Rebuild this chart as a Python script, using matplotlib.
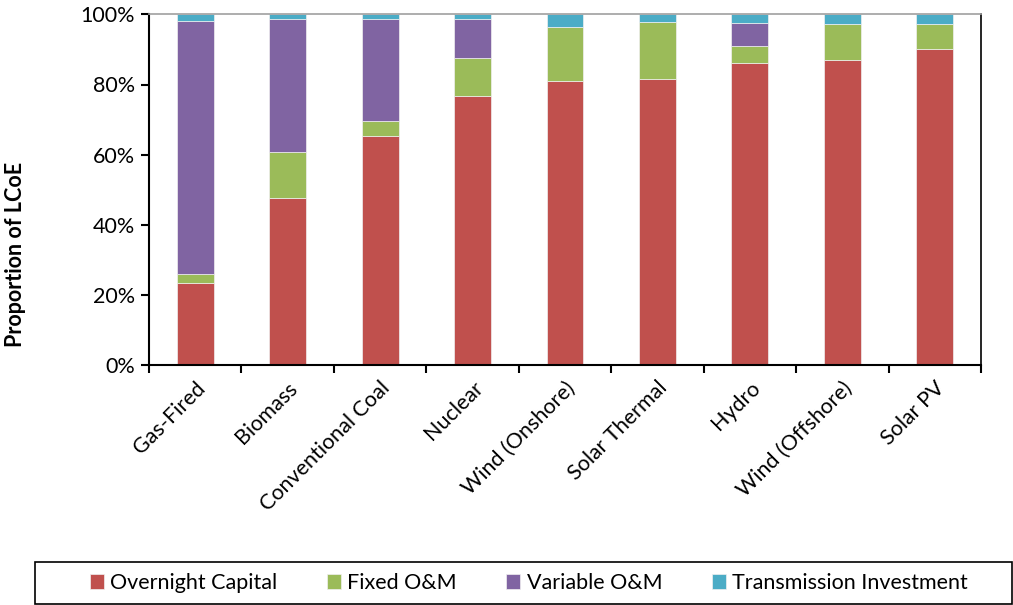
import matplotlib.pyplot as plt
from matplotlib.patches import Rectangle
import numpy as np

plt.rcParams['font.family'] = ['Lato', 'DejaVu Sans']

# technologies and their cost shares (%)
technologies = ['Gas-Fired', 'Biomass', 'Conventional Coal', 'Nuclear', 'Wind (Onshore)',
                'Solar Thermal', 'Hydro', 'Wind (Offshore)', 'Solar PV']
overnight_capital = [23.4, 47.8, 65.4, 76.8, 81.1, 81.7, 86.2, 87.1, 90.2]
fixed_om = [2.6, 13.0, 4.2, 10.8, 15.2, 16.0, 4.7, 10.2, 6.9]
variable_om = [72.1, 38.0, 29.0, 11.2, 0.0, 0.0, 6.7, 0.0, 0.0]
transmission = [1.9, 1.2, 1.4, 1.2, 3.7, 2.3, 2.4, 2.7, 2.9]

series = ['Overnight Capital', 'Fixed O&M', 'Variable O&M', 'Transmission Investment']
colors = ['#C0504D', '#9BBB59', '#8064A2', '#4BACC6']

fig = plt.figure(figsize=(10.13, 6.05), dpi=100)
ax = fig.add_axes([149 / 1013, 1 - 365.3 / 605, 832 / 1013, 351 / 605])

x = np.arange(len(technologies))
bottom = np.zeros(len(technologies))
for name, vals, c in zip(series, [overnight_capital, fixed_om, variable_om, transmission], colors):
    ax.bar(x, vals, width=0.4, bottom=bottom, color=c, edgecolor='#f0f0f0',
           linewidth=0.5, label=name)
    bottom += np.array(vals)

ax.set_xlim(-0.5, len(technologies) - 0.5)
ax.set_ylim(0, 100)
ax.set_yticks(np.arange(0, 101, 20))
ax.set_yticklabels([f'{v}%' for v in range(0, 101, 20)], fontsize=15.5)
ax.set_xticks(x)
ax.set_xticklabels(technologies, rotation=45, ha='right', rotation_mode='anchor', fontsize=15.5)
ax.set_xticks(np.arange(-0.5, len(technologies)), minor=True)
ax.tick_params(axis='x', which='major', length=0, pad=9)
ax.tick_params(axis='x', which='minor', length=6, width=1.5, direction='out')
ax.tick_params(axis='y', length=6, width=1.5, direction='out', pad=4)
ax.set_ylabel('Proportion of LCoE', fontsize=15.5, fontweight='bold')
ax.yaxis.set_label_coords(-0.148, 0.316)

ax.spines['left'].set_linewidth(1.5)
ax.spines['bottom'].set_linewidth(1.5)
ax.spines['right'].set_linewidth(1.2)
ax.spines['top'].set_color('#a0a0a0')
ax.spines['top'].set_linewidth(1.2)

# legend box across the bottom
fig.patches.append(Rectangle((35 / 1013, 1 - 604 / 605), 977 / 1013, 42 / 605,
                             transform=fig.transFigure, fill=False, edgecolor='black',
                             linewidth=1.2))
handles, labels = ax.get_legend_handles_labels()
fig.legend(handles, labels, loc='center', bbox_to_anchor=(529 / 1013, 1 - 583 / 605),
           ncol=4, frameon=False, fontsize=15.5, handlelength=0.65, handleheight=0.65,
           handletextpad=0.3, columnspacing=2.3)

fig.savefig('out.png', dpi=100)
